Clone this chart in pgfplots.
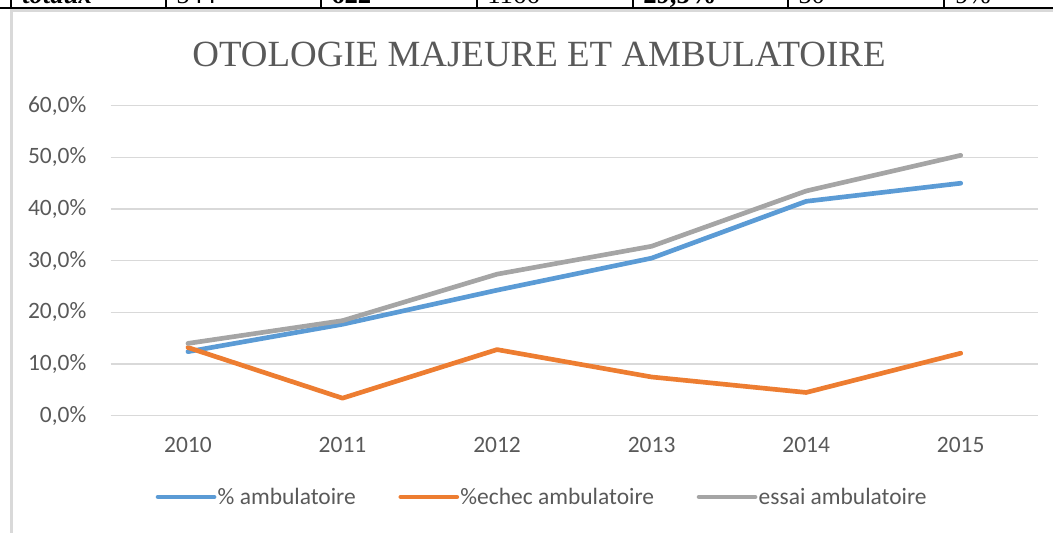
\documentclass[border=0pt]{standalone}
\usepackage{pgfplots}
\pgfplotsset{compat=1.18}
\usepackage{fontspec}
\setmainfont{Carlito}
\newfontfamily\titlefont{Liberation Serif}

\definecolor{cblue}{HTML}{5B9BD5}
\definecolor{corange}{HTML}{ED7D31}
\definecolor{cgrey}{HTML}{A5A5A5}
\definecolor{ctext}{HTML}{595959}
\definecolor{cgrid}{HTML}{D9D9D9}

\begin{document}
\begin{tikzpicture}
\path[use as bounding box] (0,0) rectangle (789.75pt,399pt);
\clip (0,0) rectangle (789.75pt,399pt);
\begin{scope}[x=0.75pt,y=-0.75pt,shift={(0pt,399pt)}]
  \draw[cgrid, line width=1.6pt] (11.5,10.5) rectangle (1080,560);
  \draw[black, line width=1.3pt] (0,8) -- (1053,8);
  \foreach \xx in {11,166,321,477,633,788,944}
    \draw[black, line width=1.1pt] (\xx,-5) -- (\xx,8);
  \begin{scope}[every node/.style={anchor=base west, inner sep=0pt, font=\titlefont\fontsize{20}{22}\selectfont}]
    \node at (22,4) {\textbf{\textit{totaux}}};
    \node at (176,4) {544};
    \node at (331,4) {\textbf{622}};
    \node at (487,4) {1166};
    \node at (643,4) {\textbf{29,5\%}};
    \node at (798,4) {50};
    \node at (955,4) {9\%};
  \end{scope}
  \node[anchor=base, inner sep=0pt, text=ctext, font=\titlefont\fontsize{27.7}{30}\selectfont] at (539,67) {OTOLOGIE MAJEURE ET AMBULATOIRE};
\end{scope}
\begin{axis}[
  at={(83.0pt,87.2pt)}, anchor=south west,
  scale only axis, width=695.5pt, height=232.5pt,
  xmin=-0.5, xmax=5.5, ymin=0, ymax=60,
  xtick={0,1,2,3,4,5}, xticklabels={2010,2011,2012,2013,2014,2015},
  ytick={0,10,20,30,40,50,60},
  yticklabels={{0,0\%},{10,0\%},{20,0\%},{30,0\%},{40,0\%},{50,0\%},{60,0\%}},
  axis line style={draw=none}, major tick length=0pt,
  ymajorgrids, grid style={cgrid, line width=0.9pt},
  tick label style={font=\fontsize{17.6}{20}\selectfont, text=ctext},
  yticklabel style={inner sep=0pt, xshift=-18pt},
  xticklabel style={inner sep=0pt, yshift=-16pt},
  legend columns=3,
  legend cell align=left,
  legend style={draw=none, fill=none, at={(0.465,-0.262)}, anchor=center,
    font=\fontsize{17.6}{20}\selectfont, text=ctext, inner sep=0pt,
    nodes={inner sep=1pt},
    /tikz/every even column/.append style={column sep=31pt}},
  legend image code/.code={\draw[#1, line cap=round] (0pt,0pt) -- (42pt,0pt);},
  every axis plot/.append style={line width=3.5pt, line cap=round, line join=round, mark=none},
]
\addplot[cblue] coordinates {(0,12.4) (1,17.7) (2,24.3) (3,30.5) (4,41.5) (5,45.0)};
\addlegendentry{\% ambulatoire}
\addplot[corange] coordinates {(0,13.2) (1,3.4) (2,12.8) (3,7.5) (4,4.5) (5,12.1)};
\addlegendentry{\%echec ambulatoire}
\addplot[cgrey] coordinates {(0,14.0) (1,18.4) (2,27.4) (3,32.8) (4,43.5) (5,50.4)};
\addlegendentry{essai ambulatoire}
\end{axis}
\end{tikzpicture}
\end{document}
